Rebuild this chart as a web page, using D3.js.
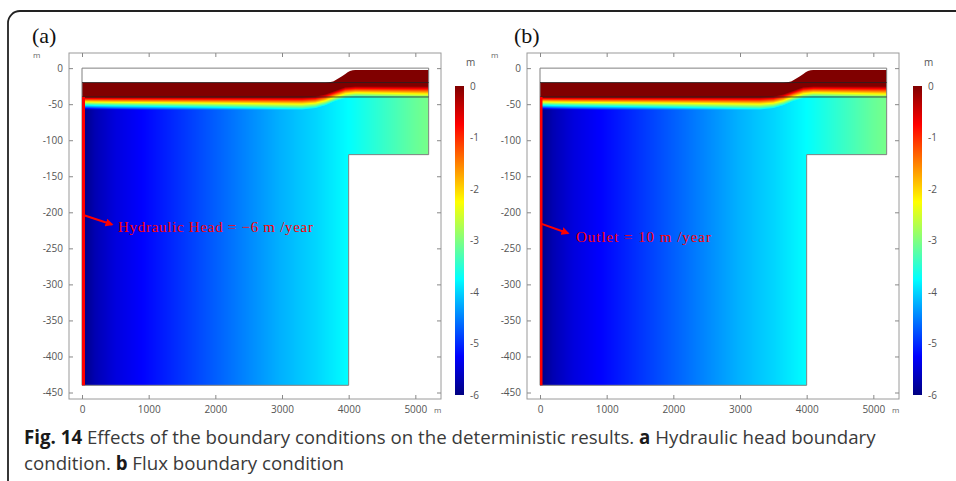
<!DOCTYPE html>
<html><head><meta charset="utf-8">
<script src="https://cdn.jsdelivr.net/npm/d3@7"></script>
<style>html,body{margin:0;padding:0;background:#fff;} svg{display:block;}</style>
</head><body>
<svg id="chart" width="956" height="481"></svg>
<script>
// ---------------- data ----------------
const xTicks = [0, 1000, 2000, 3000, 4000, 5000];
const yTicks = [0, -50, -100, -150, -200, -250, -300, -350, -400, -450];
const colorbarTicks = [0, -1, -2, -3, -4, -5, -6];
const panelLabels = ["(a)", "(b)"];
const annotationTexts = ["Hydraulic Head = \u22126 m /year", "Outlet = 10 m /year"];
const annotationWidths = [195, 135];
// arrow start / end and text anchor (data units, m)
const arrowStartX = [30, 25];
const arrowStartY = [-204, -216];
const arrowEndX = [450, 420];
const arrowEndY = [-217, -229];
const textX = [540, 540];
const textY = [-220, -234];
// geometry (m)
const surfaceX = [0, 3650, 3750, 3850, 3950, 4020, 4100, 5200];
const surfaceY = [-20, -20, -19, -14, -8, -4, -2.5, -2.5];
const outlineX = [0, 0, 5200, 5200, 4000, 4000];
const outlineY = [-440, 0, 0, -120, -120, -440];
const layerDepths = [-20, -40];
const boundaryTop = -40, boundaryBottom = -440;
// head field readings (m)
const profileX = [0, 200, 500, 1000, 1500, 2000, 2500, 3000, 3500, 4000, 4500, 5000, 5200];
const baseHead = [-6.0, -5.7, -5.45, -5.2, -4.95, -4.7, -4.45, -4.2, -4.0, -3.75, -3.45, -3.15, -3.05];
const fringeX = [0, 3300, 3500, 3650, 3800, 3950, 4100, 5200];
const fringeTop = [-40, -40, -39, -36, -31, -26, -25, -25];
const fringeBottom = [-58, -58, -56, -52, -46, -42, -40, -40];
// colormap
const jetValues = [-6, -5.25, -4.5, -3.75, -3, -2.25, -1.5, -0.75, 0];
const jetColors = ["#000080", "#0000ff", "#0080ff", "#00ffff", "#80ff80", "#ffff00", "#ff8000", "#ff0000", "#800000"];

// ---------------- drawing ----------------
const svg = d3.select("#chart");
const color = d3.scaleLinear().domain(jetValues).range(jetColors).clamp(true);
const gAt = d3.scaleLinear().domain(profileX).range(baseHead);
const topAt = d3.scaleLinear().domain(fringeX).range(fringeTop);
const botAt = d3.scaleLinear().domain(fringeX).range(fringeBottom);

const defs = svg.append("defs");
defs.append("marker").attr("id", "arrowhead").attr("viewBox", "0 0 10 10")
  .attr("refX", 8).attr("refY", 5).attr("markerWidth", 4).attr("markerHeight", 4)
  .attr("orient", "auto").attr("markerUnits", "strokeWidth")
  .append("path").attr("d", "M0,0 L10,5 L0,10 Z").attr("fill", "#ff0000");

const grad = defs.append("linearGradient").attr("id", "cbgrad")
  .attr("x1", 0).attr("y1", 0).attr("x2", 0).attr("y2", 1);
jetValues.slice().reverse().forEach(v => {
  grad.append("stop").attr("offset", (0 - v) / 6).attr("stop-color", color(v));
});

// outer border
svg.append("rect").attr("x", 8).attr("y", 11).attr("width", 1100).attr("height", 600)
  .attr("rx", 12).attr("fill", "none").attr("stroke", "#222").attr("stroke-width", 1.8);

const offsets = [0, 458];
const labelX = [32, 514];
const boundaryWidths = [3, 2.5];

function fieldImage(x, y) {
  const x0 = Math.floor(x(0)), x1 = Math.ceil(x(5200));
  const y0 = Math.floor(y(0)), y1 = Math.ceil(y(-440));
  const w = x1 - x0, h = y1 - y0;
  const c = document.createElement("canvas");
  c.width = w; c.height = h;
  const ctx = c.getContext("2d");
  const img = ctx.createImageData(w, h);
  for (let i = 0; i < w; i++) {
    const dx = x.invert(x0 + i + 0.5);
    const g = gAt(dx), t = topAt(dx), b = botAt(dx);
    for (let j = 0; j < h; j++) {
      const dy = y.invert(y0 + j + 0.5);
      let v;
      if (dy >= t) v = 0;
      else if (dy <= b) v = g;
      else v = g * (t - dy) / (t - b);
      const col = d3.rgb(color(v));
      const k = (j * w + i) * 4;
      img.data[k] = col.r; img.data[k + 1] = col.g; img.data[k + 2] = col.b; img.data[k + 3] = 255;
    }
  }
  ctx.putImageData(img, 0, 0);
  return { href: c.toDataURL(), x: x0, y: y0, w, h };
}

offsets.forEach((ox, pi) => {
  const x = d3.scaleLinear().domain([-195, 5385]).range([69 + ox, 441 + ox]);
  const y = d3.scaleLinear().domain([21, -459]).range([53, 399]);
  const g = svg.append("g");
  const tickFont = "'Open Sans', 'Noto Sans', sans-serif";

  // frame
  g.append("rect").attr("x", x(-195)).attr("y", y(21)).attr("width", x(5385) - x(-195))
    .attr("height", y(-459) - y(21)).attr("fill", "none").attr("stroke", "#9a9a9a").attr("stroke-width", 1);

  // field clip
  const surfPts = surfaceX.map((d, i) => [x(d), y(surfaceY[i])]);
  const surfPath = d3.line().curve(d3.curveMonotoneX)(surfPts);
  const clipD = surfPath + `L${x(5200)},${y(-120)}L${x(4000)},${y(-120)}L${x(4000)},${y(-440)}L${x(0)},${y(-440)}Z`;
  defs.append("clipPath").attr("id", "clip" + pi).append("path").attr("d", clipD);
  const im = fieldImage(x, y);
  g.append("image").attr("href", im.href).attr("x", im.x).attr("y", im.y)
    .attr("width", im.w).attr("height", im.h).attr("preserveAspectRatio", "none")
    .attr("clip-path", `url(#clip${pi})`);

  // outline
  const outline = d3.line()(outlineX.map((d, i) => [x(d), y(outlineY[i])])) + "Z";
  g.append("path").attr("d", outline).attr("fill", "none").attr("stroke", "#808080").attr("stroke-width", 1);
  // layer lines
  layerDepths.forEach(d => {
    g.append("line").attr("x1", x(0)).attr("x2", x(5200)).attr("y1", y(d)).attr("y2", y(d))
      .attr("stroke", "#222").attr("stroke-width", 0.8);
  });
  // boundary
  g.append("rect").attr("x", x(0)).attr("y", y(boundaryTop)).attr("width", boundaryWidths[pi])
    .attr("height", y(boundaryBottom) - y(boundaryTop)).attr("fill", "#ff0000");

  // axes
  const styleAxis = sel => {
    sel.select(".domain").remove();
    sel.selectAll(".tick line").attr("stroke", "#888");
    sel.selectAll("text").attr("fill", "#555").style("font-family", tickFont).style("font-size", "10px");
  };
  g.append("g").attr("transform", `translate(${x(-195)},0)`)
    .call(d3.axisLeft(y).tickValues(yTicks).tickSize(-4).tickPadding(6).tickFormat(d => String(d))).call(styleAxis);
  g.append("g").attr("transform", `translate(${x(5385)},0)`)
    .call(d3.axisRight(y).tickValues(yTicks).tickSize(-4).tickFormat("")).call(styleAxis);
  g.append("g").attr("transform", `translate(0,${y(-459)})`)
    .call(d3.axisBottom(x).tickValues(xTicks).tickSize(-4).tickPadding(7).tickFormat(d => String(d))).call(styleAxis);
  g.append("g").attr("transform", `translate(0,${y(21)})`)
    .call(d3.axisTop(x).tickValues(xTicks).tickSize(-4).tickFormat("")).call(styleAxis);

  // unit labels
  g.append("text").attr("x", 33 + ox).attr("y", 58).text("m")
    .attr("fill", "#666").style("font-family", tickFont).style("font-size", "8px");
  g.append("text").attr("x", 434 + ox).attr("y", 413).text("m")
    .attr("fill", "#666").style("font-family", tickFont).style("font-size", "8px");

  // colorbar
  const cb = d3.scaleLinear().domain([0, -6]).range([86, 395]);
  g.append("rect").attr("x", 455 + ox).attr("y", cb(0)).attr("width", 9).attr("height", cb(-6) - cb(0))
    .attr("fill", "url(#cbgrad)");
  g.append("text").attr("x", 466 + ox).attr("y", 66).text("m")
    .attr("fill", "#555").style("font-family", tickFont).style("font-size", "10px");
  g.selectAll(".cbt").data(colorbarTicks).join("text").attr("class", "cbt")
    .attr("x", 470 + ox).attr("y", d => cb(d)).attr("dy", "0.35em").text(d => String(d))
    .attr("fill", "#555").style("font-family", tickFont).style("font-size", "10px");

  // panel label
  g.append("text").attr("x", labelX[pi]).attr("y", 43).text(panelLabels[pi])
    .style("font-family", "'Liberation Serif', 'DejaVu Serif', serif").style("font-size", "22px").attr("fill", "#111");

  // annotation
  g.append("line").attr("x1", x(arrowStartX[pi])).attr("y1", y(arrowStartY[pi]))
    .attr("x2", x(arrowEndX[pi])).attr("y2", y(arrowEndY[pi]))
    .attr("stroke", "#ff0000").attr("stroke-width", 2).attr("marker-end", "url(#arrowhead)");
  g.append("text").attr("x", x(textX[pi])).attr("y", y(textY[pi])).attr("dy", "0.35em")
    .attr("textLength", annotationWidths[pi]).attr("lengthAdjust", "spacing")
    .text(annotationTexts[pi]).attr("fill", "#ff0000")
    .style("font-family", "'Liberation Serif', 'DejaVu Serif', serif").style("font-size", "15px");
});

// caption
const capFont = "'Open Sans', 'Noto Sans', sans-serif";
const cap1 = [["Fig. 14", true], [" Effects of the boundary conditions on the deterministic results. ", false], ["a", true], [" Hydraulic head boundary", false]];
const cap2 = [["condition. ", false], ["b", true], [" Flux boundary condition", false]];
[[cap1, 444], [cap2, 470]].forEach(([parts, yy]) => {
  const t = svg.append("text").attr("x", 24).attr("y", yy).style("font-family", capFont)
    .style("font-size", "18.7px").attr("fill", "#3a3a3a").attr("xml:space", "preserve");
  parts.forEach(([s, b]) => t.append("tspan").text(s).attr("font-weight", b ? "bold" : "normal")
    .attr("fill", b ? "#1a1a1a" : "#3a3a3a"));
});
</script>
</body></html>
